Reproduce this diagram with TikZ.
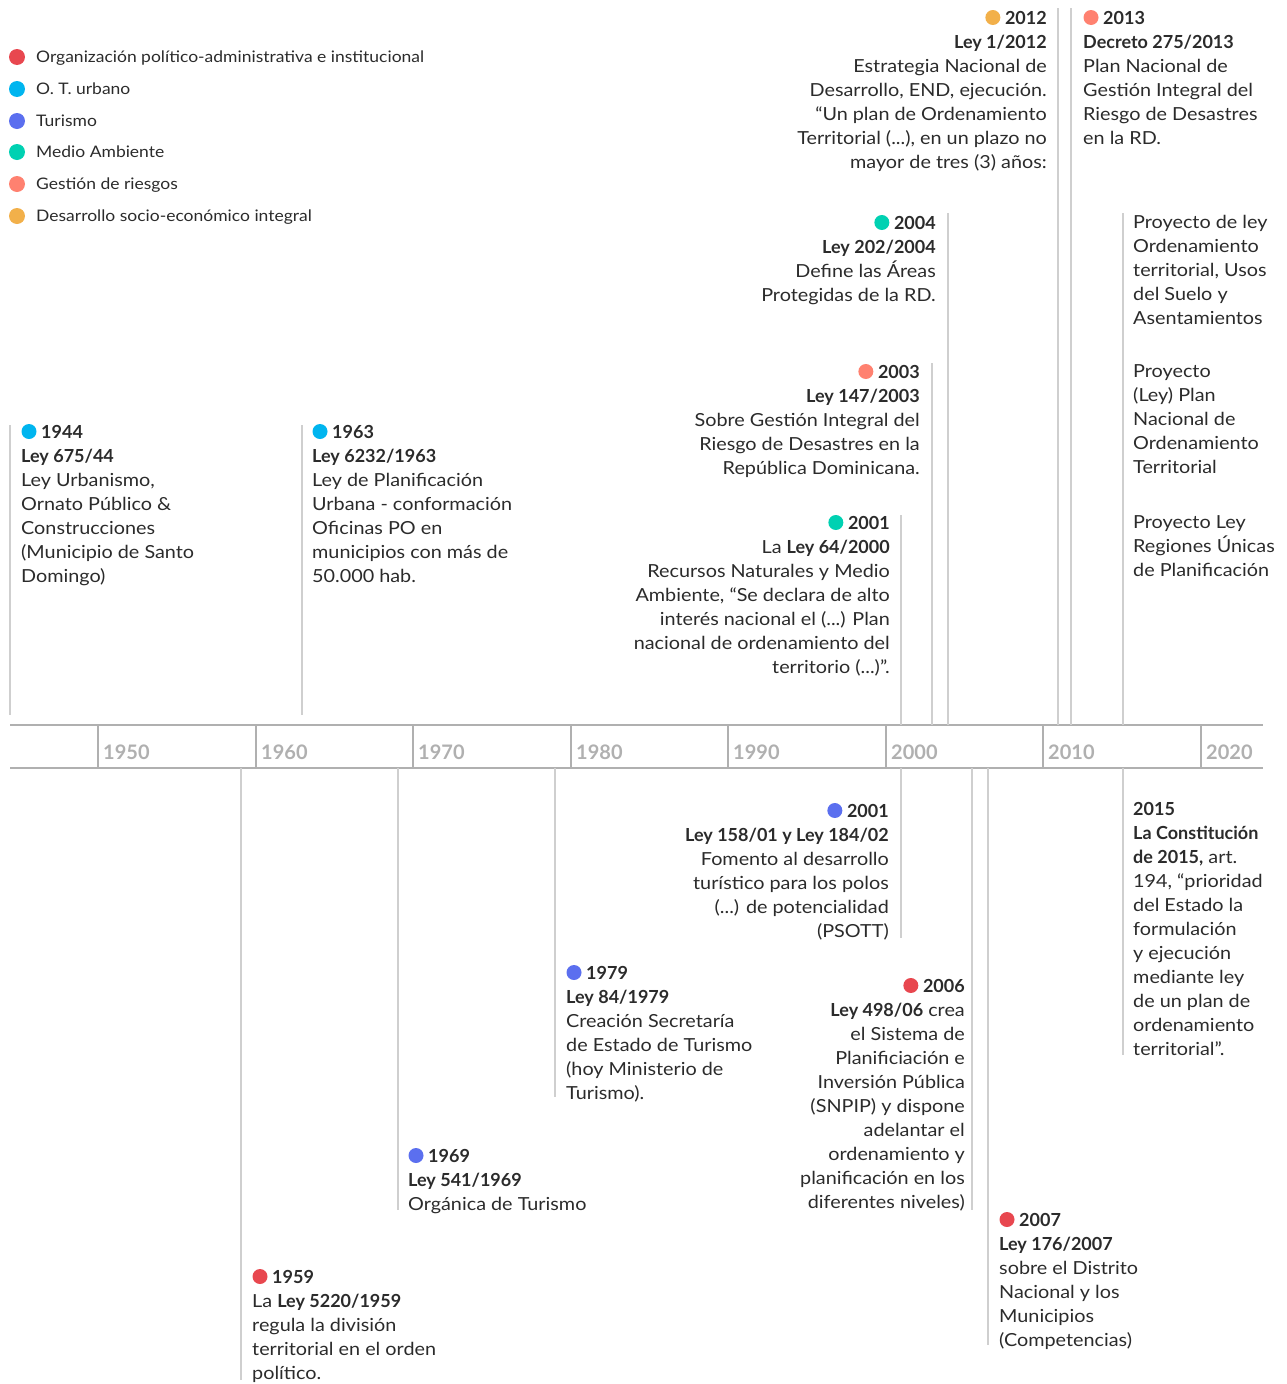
\documentclass[tikz,border=0pt]{standalone}
\usepackage{fontspec}
\setmainfont{Lato}[FakeStretch=1.1]
\newfontfamily\bfam{Lato Bold}
\newcommand{\lb}[1]{{\bfam #1}}
\usetikzlibrary{calc}
\definecolor{cRed}{HTML}{E8474F}
\definecolor{cCyan}{HTML}{00B5EF}
\definecolor{cBlue}{HTML}{5B6FEF}
\definecolor{cTeal}{HTML}{00D1B2}
\definecolor{cSalmon}{HTML}{FF8170}
\definecolor{cOrange}{HTML}{F2B04A}
\definecolor{txt}{HTML}{2B2B2B}
\definecolor{axisgray}{HTML}{B0B0B0}
\definecolor{conngray}{HTML}{CFCFCF}
\begin{document}
\begin{tikzpicture}[x=1pt,y=-1pt,
  body/.style={inner sep=0, font=\fontsize{18}{24}\selectfont, text=txt},
  bodyL/.style={body, anchor=north west, align=left},
  bodyR/.style={body, anchor=north east, align=right},
  yr/.style={inner sep=0, font=\fontsize{18}{24}\selectfont\bfam, text=txt},
  yrL/.style={yr, anchor=base west},
  yrR/.style={yr, anchor=base east},
  conn/.style={draw=conngray, line width=1.5pt},
  axisln/.style={draw=axisgray, line width=2.6pt},
  tickln/.style={draw=axisgray, line width=2.2pt},
  axlab/.style={inner sep=0, anchor=west, font=\fontsize{20}{24}\selectfont\bfam, text=axisgray},
  leg/.style={inner sep=0, anchor=base west, font=\fontsize{15.9}{18}\selectfont, text=txt}
]
\useasboundingbox (0,0) rectangle (1286,1384);

% ---------- legend ----------
\foreach \c/\yy/\t/\n in {cRed/57/{Organización político-administrativa e institucional}/l1,
  cCyan/89/{O. T. urbano}/l2, cBlue/121/{Turismo}/l3, cTeal/152/{Medio Ambiente}/l4,
  cSalmon/184/{Gestión de riesgos}/l5, cOrange/216/{Desarrollo socio-económico integral}/l6}{
  \fill[\c] (17,\yy) circle (8);
  \node[leg] (\n) at (36,\yy+5.5) {\t};
}

% ---------- axis ----------
\coordinate (axTL) at (10,725);
\coordinate (axTR) at (1263,725);
\coordinate (axBL) at (10,768);
\coordinate (axBR) at (1263,768);
\draw[axisln] (axTL) -- (axTR);
\draw[axisln] (axBL) -- (axBR);
\foreach \xx/\yrv in {98/1950,256/1960,413/1970,571/1980,728/1990,886/2000,1043/2010,1201/2020}{
  \coordinate (tk\yrv t) at (\xx,725);
  \coordinate (tk\yrv b) at (\xx,768);
  \draw[tickln] (tk\yrv t) -- (tk\yrv b);
  \node[axlab] (lab\yrv) at (\xx+5,752) {\yrv};
}

% ---------- connectors ----------
\foreach \n/\xx/\ya/\yb in {c1944/10/425/715, c1963/302/425/715, c2001a/901/515/725,
  c2003/932/363/725, c2004/948/213/725, c2012/1058/8/725, c2013/1071/8/725, cproy/1123/213/725,
  c2001b/901/768/938, c1979/555/768/1097, c2006/972/768/1210, c1969/398/768/1210,
  c1959/241/768/1380, c2007/988/768/1345, c2015/1123/768/1055}{
  \coordinate (\n s) at (\xx,\ya);
  \coordinate (\n e) at (\xx,\yb);
  \draw[conn] (\n s) -- (\n e);
}

% ---------- 1944 ----------
\node[yrL] (y1944) at (41,438) {1944};
\fill[cCyan] ($(y1944.base west)+(-12,-6.5)$) circle (7.5);
\node[bodyL] (b1944) at (21,445.2) {\strut\lb{Ley 675/44}\\Ley Urbanismo,\\Ornato Público \&\\Construcciones\\(Municipio de Santo\\Domingo)};

% ---------- 1963 ----------
\node[yrL] (y1963) at (332,438) {1963};
\fill[cCyan] ($(y1963.base west)+(-12,-6.5)$) circle (7.5);
\node[bodyL] (b1963) at (312,445.2) {\strut\lb{Ley 6232/1963}\\Ley de Planificación\\Urbana - conformación\\Oficinas PO en\\municipios con más de\\50.000 hab.};

% ---------- 2001 (top) ----------
\node[yrR] (y2001a) at (890,529) {2001};
\fill[cTeal] ($(y2001a.base west)+(-12,-6.5)$) circle (7.5);
\node[bodyR] (b2001a) at (890,536.2) {\strut La \lb{Ley 64/2000}\\Recursos Naturales y Medio\\Ambiente, “Se declara de alto\\interés nacional el (...) Plan\\nacional de ordenamiento del\\territorio (...)”.};

% ---------- 2003 ----------
\node[yrR] (y2003) at (920,378) {2003};
\fill[cSalmon] ($(y2003.base west)+(-12,-6.5)$) circle (7.5);
\node[bodyR] (b2003) at (920,385.2) {\strut\lb{Ley 147/2003}\\Sobre Gestión Integral del\\Riesgo de Desastres en la\\República Dominicana.};

% ---------- 2004 ----------
\node[yrR] (y2004) at (936,229) {2004};
\fill[cTeal] ($(y2004.base west)+(-12,-6.5)$) circle (7.5);
\node[bodyR] (b2004) at (936,236.2) {\strut\lb{Ley 202/2004}\\Define las Áreas\\Protegidas de la RD.};

% ---------- 2012 ----------
\node[yrR] (y2012) at (1047,24) {2012};
\fill[cOrange] ($(y2012.base west)+(-12,-6.5)$) circle (7.5);
\node[bodyR] (b2012) at (1047,31.2) {\strut\lb{Ley 1/2012}\\Estrategia Nacional de\\Desarrollo, END, ejecución.\\“Un plan de Ordenamiento\\Territorial (...), en un plazo no\\mayor de tres (3) años:};

% ---------- 2013 ----------
\node[yrL] (y2013) at (1103,24) {2013};
\fill[cSalmon] ($(y2013.base west)+(-12,-6.5)$) circle (7.5);
\node[bodyL] (b2013) at (1083,31.2) {\strut\lb{Decreto 275/2013}\\Plan Nacional de\\Gestión Integral del\\Riesgo de Desastres\\en la RD.};

% ---------- Proyectos ----------
\node[bodyL] (pA) at (1133,211.2) {\strut Proyecto de ley\\Ordenamiento\\territorial, Usos\\del Suelo y\\Asentamientos};
\node[bodyL] (pB) at (1133,360.2) {\strut Proyecto\\(Ley) Plan\\Nacional de\\Ordenamiento\\Territorial};
\node[bodyL] (pC) at (1133,511.2) {\strut Proyecto Ley\\Regiones Únicas\\de Planificación};

% ---------- 2001 (bottom) ----------
\node[yrR] (y2001b) at (889,817) {2001};
\fill[cBlue] ($(y2001b.base west)+(-12,-6.5)$) circle (7.5);
\node[bodyR] (b2001b) at (889,824.2) {\strut\lb{Ley 158/01 y Ley 184/02}\\Fomento al desarrollo\\turístico para los polos\\(...) de potencialidad\\(PSOTT)};

% ---------- 1979 ----------
\node[yrL] (y1979) at (586,979) {1979};
\fill[cBlue] ($(y1979.base west)+(-12,-6.5)$) circle (7.5);
\node[bodyL] (b1979) at (566,986.2) {\strut\lb{Ley 84/1979}\\Creación Secretaría\\de Estado de Turismo\\(hoy Ministerio de\\Turismo).};

% ---------- 2006 ----------
\node[yrR] (y2006) at (965,992) {2006};
\fill[cRed] ($(y2006.base west)+(-12,-6.5)$) circle (7.5);
\node[bodyR] (b2006) at (965,999.2) {\strut\lb{Ley 498/06} crea\\el Sistema de\\Planificiación e\\Inversión Pública\\(SNPIP) y dispone\\adelantar el\\ordenamiento y\\planificación en los\\diferentes niveles)};

% ---------- 1969 ----------
\node[yrL] (y1969) at (428,1162) {1969};
\fill[cBlue] ($(y1969.base west)+(-12,-6.5)$) circle (7.5);
\node[bodyL] (b1969) at (408,1169.2) {\strut\lb{Ley 541/1969}\\Orgánica de Turismo};

% ---------- 1959 ----------
\node[yrL] (y1959) at (272,1283) {1959};
\fill[cRed] ($(y1959.base west)+(-12,-6.5)$) circle (7.5);
\node[bodyL] (b1959) at (252,1290.2) {\strut La \lb{Ley 5220/1959}\\regula la división\\territorial en el orden\\político.};

% ---------- 2007 ----------
\node[yrL] (y2007) at (1019,1226) {2007};
\fill[cRed] ($(y2007.base west)+(-12,-6.5)$) circle (7.5);
\node[bodyL] (b2007) at (999,1233.2) {\strut\lb{Ley 176/2007}\\sobre el Distrito\\Nacional y los\\Municipios\\(Competencias)};

% ---------- 2015 ----------
\node[yrL] (y2015) at (1133,815) {2015};
\node[bodyL] (b2015) at (1133,822.2) {\strut\lb{La Constitución}\\\lb{de 2015,} art.\\194, “prioridad\\del Estado la\\formulación\\y ejecución\\mediante ley\\de un plan de\\ordenamiento\\territorial”.};
\end{tikzpicture}
\end{document}
